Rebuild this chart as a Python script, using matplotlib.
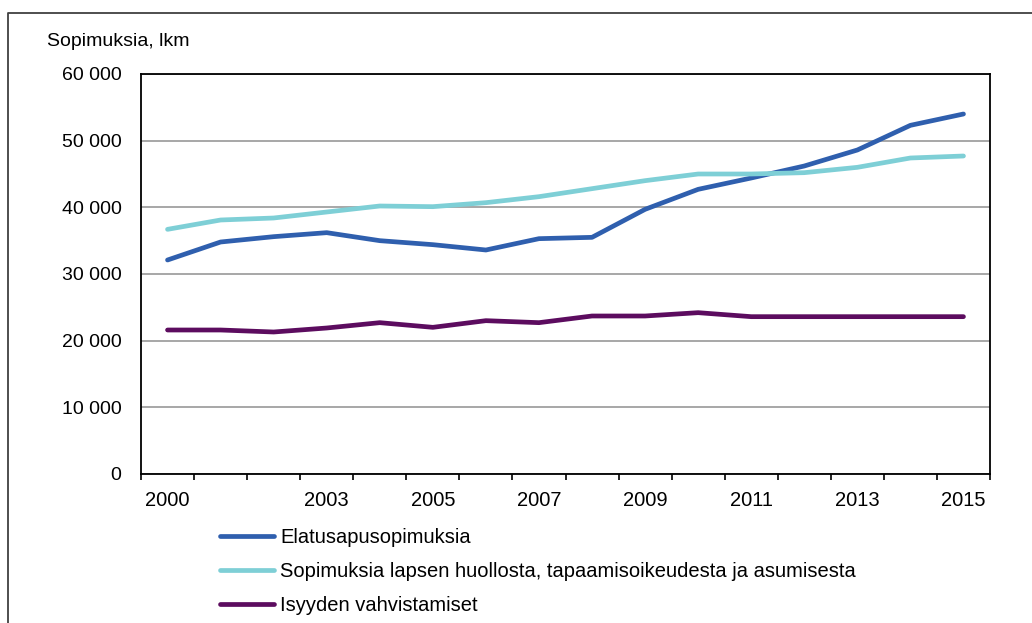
import matplotlib
matplotlib.use("Agg")
from matplotlib import pyplot as plt
from matplotlib.lines import Line2D
from matplotlib.ticker import FuncFormatter

# Aineisto (luettu kuvasta)
vuodet = list(range(2000, 2016))
elatus = [32100, 34800, 35600, 36200, 35000, 34400, 33600, 35300,
          35500, 39700, 42700, 44400, 46200, 48600, 52300, 54000]
huolto = [36700, 38100, 38400, 39300, 40200, 40100, 40700, 41600,
          42800, 44000, 45000, 45000, 45200, 46000, 47400, 47700]
isyys = [21600, 21600, 21300, 21900, 22700, 22000, 23000, 22700,
         23700, 23700, 24200, 23600, 23600, 23600, 23600, 23600]
sarjat = ["Elatusapusopimuksia",
          "Sopimuksia lapsen huollosta, tapaamisoikeudesta ja asumisesta",
          "Isyyden vahvistamiset"]
x_nimiot = [2000, 2003, 2005, 2007, 2009, 2011, 2013, 2015]

plt.rcParams['font.family'] = ['Liberation Sans', 'DejaVu Sans']

fig = plt.figure(figsize=(10.32, 6.23), dpi=100)
ax = fig.add_axes([141 / 1032, 149 / 623, 849 / 1032, 400 / 623])

varit = ["#2f5fae", "#7ecfd6", "#5c0c5f"]
for data, nimi, vari in zip([elatus, huolto, isyys], sarjat, varit):
    ax.plot(vuodet, data, color=vari, lw=3.4, label=nimi,
            solid_capstyle='round', solid_joinstyle='round')

ax.set_xlim(vuodet[0] - 0.5, vuodet[-1] + 0.5)
ax.set_ylim(0, 60000)
ax.set_yticks(range(0, 60001, 10000))
ax.yaxis.set_major_formatter(FuncFormatter(lambda v, p: f"{int(v):,}".replace(",", " ")))
ax.grid(axis='y', color='#a0a0a0', lw=1.3)
ax.set_axisbelow(True)

# rajat luokkien välissä, nimiöt keskellä
ax.set_xticks([v - 0.5 for v in vuodet] + [vuodet[-1] + 0.5])
ax.set_xticklabels([])
ax.set_xticks(x_nimiot, minor=True)
ax.set_xticklabels([str(v) for v in x_nimiot], minor=True)
ax.tick_params(axis='x', which='major', length=4.5, width=1.2, direction='out')
ax.tick_params(axis='x', which='minor', length=0, pad=12, labelsize=14.5)
ax.tick_params(axis='y', length=0, pad=14, labelsize=14)

for s in ax.spines.values():
    s.set_color('black')
    s.set_linewidth(1.3)

fig.text(47 / 1032, 1 - 42 / 623, "Sopimuksia, lkm", fontsize=14,
         ha='left', va='center')

fig.legend(loc='upper left', bbox_to_anchor=(220 / 1032, 1 - 528 / 623),
           frameon=False, fontsize=14.5, handlelength=2.7, handletextpad=0.3,
           labelspacing=0.75, borderpad=0, borderaxespad=0)

# ulkokehys
fig.add_artist(Line2D([8 / 1032, 8 / 1032, 1.0], [0, 1 - 13 / 623, 1 - 13 / 623],
                      transform=fig.transFigure, color='#404040', lw=1.3))

fig.savefig("out.png", dpi=100)
